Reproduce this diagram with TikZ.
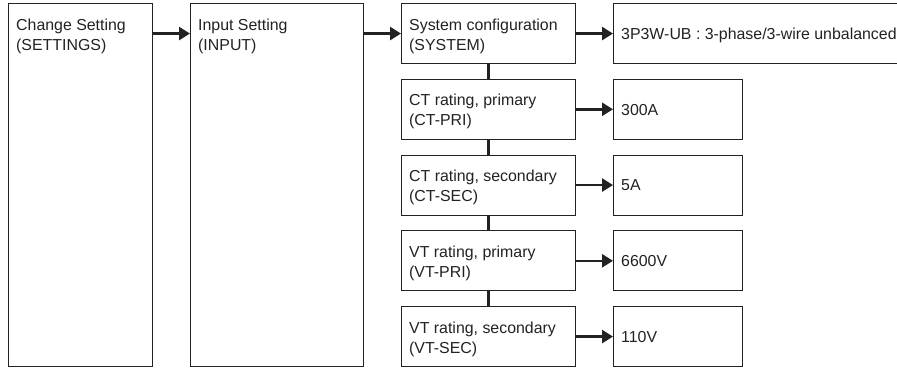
\documentclass[tikz,border=0pt]{standalone}
\usepackage{fontspec}
\setmainfont{Liberation Sans}
\usetikzlibrary{arrows.meta}
\definecolor{ink}{HTML}{222222}
\begin{document}
\begin{tikzpicture}[x=1pt,y=-1pt,
  box/.style={draw=ink,line width=1.1pt,rectangle,inner sep=0pt,anchor=north west},
  txt/.style={anchor=base west,inner sep=0pt,align=left,text=ink,font=\fontsize{15.9}{20}\selectfont},
  arr/.style={draw=ink,line width=2.6pt,-{Triangle[length=11pt,width=13pt]}},
  conn/.style={draw=ink,line width=2.2pt}]
\useasboundingbox (0,0) rectangle (897,367);
\clip (0,0) rectangle (897,367);
% tall boxes
\node[box,minimum width=144pt,minimum height=363pt] (b1) at (8,3) {};
\node[box,minimum width=173pt,minimum height=363pt] (b2) at (190,3) {};
% left column
\node[box,minimum width=174pt,minimum height=60pt] (sys) at (401,3) {};
\node[box,minimum width=174pt,minimum height=60pt] (ctp) at (401,78.75) {};
\node[box,minimum width=174pt,minimum height=60pt] (cts) at (401,154.5) {};
\node[box,minimum width=174pt,minimum height=60pt] (vtp) at (401,230.25) {};
\node[box,minimum width=174pt,minimum height=60pt] (vts) at (401,306) {};
% value column
\node[box,minimum width=300pt,minimum height=60pt] (v0) at (613,3) {};
\node[box,minimum width=129pt,minimum height=60pt] (v1) at (613,78.75) {};
\node[box,minimum width=129pt,minimum height=60pt] (v2) at (613,154.5) {};
\node[box,minimum width=129pt,minimum height=60pt] (v3) at (613,230.25) {};
\node[box,minimum width=129pt,minimum height=60pt] (v4) at (613,306) {};
% texts (base anchor = baseline of the last line)
\node[txt] (t1) at ([shift={(8,47)}]b1.north west) {Change Setting\\(SETTINGS)};
\node[txt] (t2) at ([shift={(8,47)}]b2.north west) {Input Setting\\(INPUT)};
\node[txt] (t3) at ([shift={(8,47)}]sys.north west) {System configuration\\(SYSTEM)};
\node[txt] (t4) at ([shift={(8,47)}]ctp.north west) {CT rating, primary\\(CT-PRI)};
\node[txt] (t5) at ([shift={(8,47)}]cts.north west) {CT rating, secondary\\(CT-SEC)};
\node[txt] (t6) at ([shift={(8,47)}]vtp.north west) {VT rating, primary\\(VT-PRI)};
\node[txt] (t7) at ([shift={(8,47)}]vts.north west) {VT rating, secondary\\(VT-SEC)};
\node[txt] (u0) at ([shift={(8,5.7)}]v0.west) {3P3W-UB : 3-phase/3-wire unbalanced};
\node[txt] (u1) at ([shift={(8,5.7)}]v1.west) {300A};
\node[txt] (u2) at ([shift={(8,5.7)}]v2.west) {5A};
\node[txt] (u3) at ([shift={(8,5.7)}]v3.west) {6600V};
\node[txt] (u4) at ([shift={(8,5.7)}]v4.west) {110V};
% arrows
\draw[arr] (b1.east |- sys.center) -- (b2.west |- sys.center);
\draw[arr] (b2.east |- sys.center) -- (sys.west);
\draw[arr] (sys.east) -- (v0.west);
\draw[arr] (ctp.east) -- (v1.west);
\draw[arr] (cts.east) -- (v2.west);
\draw[arr] (vtp.east) -- (v3.west);
\draw[arr] (vts.east) -- (v4.west);
% connectors
\draw[conn] (sys.south) -- (ctp.north);
\draw[conn] (ctp.south) -- (cts.north);
\draw[conn] (cts.south) -- (vtp.north);
\draw[conn] (vtp.south) -- (vts.north);
\end{tikzpicture}
\end{document}
